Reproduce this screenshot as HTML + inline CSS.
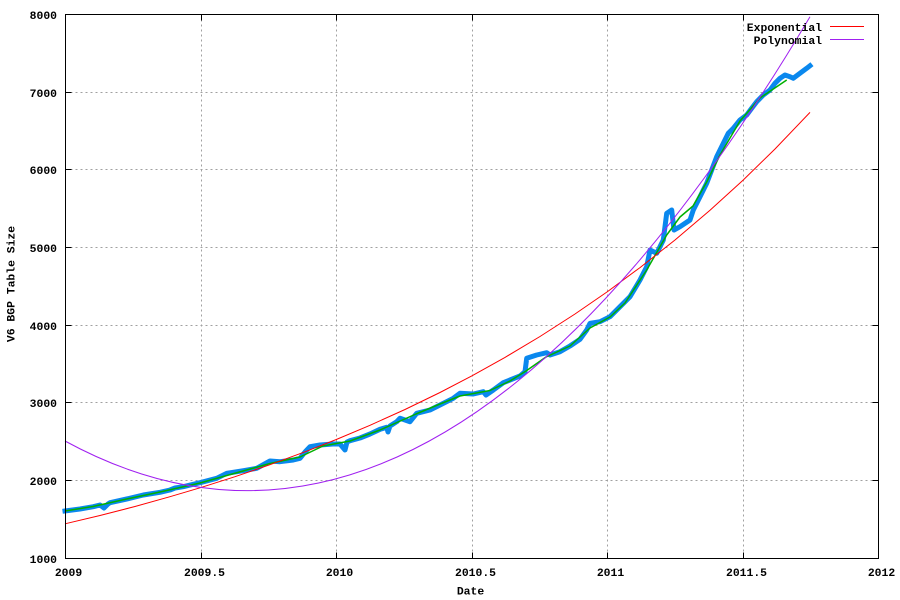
<!DOCTYPE html>
<html>
<head>
<meta charset="utf-8">
<style>
html,body{margin:0;padding:0;background:#fff;}
svg{display:block;}
text{font-family:"Liberation Mono","DejaVu Sans Mono",monospace;font-weight:bold;font-size:11.4px;fill:#000;}
</style>
</head>
<body>
<svg width="900" height="600" viewBox="0 0 900 600" xmlns="http://www.w3.org/2000/svg">
<rect x="0" y="0" width="900" height="600" fill="#fff"/>
<!-- grid -->
<g stroke="#a0a0a0" stroke-width="1" stroke-dasharray="2,3" fill="none">
<line x1="65.5" y1="480.5" x2="878.5" y2="480.5"/>
<line x1="65.5" y1="402.5" x2="878.5" y2="402.5"/>
<line x1="65.5" y1="325.5" x2="878.5" y2="325.5"/>
<line x1="65.5" y1="247.5" x2="878.5" y2="247.5"/>
<line x1="65.5" y1="169.5" x2="878.5" y2="169.5"/>
<line x1="65.5" y1="92.5" x2="878.5" y2="92.5"/>
<line x1="201.5" y1="14.5" x2="201.5" y2="558.5"/>
<line x1="336.5" y1="14.5" x2="336.5" y2="558.5"/>
<line x1="472.5" y1="14.5" x2="472.5" y2="558.5"/>
<line x1="607.5" y1="14.5" x2="607.5" y2="558.5"/>
<line x1="743.5" y1="14.5" x2="743.5" y2="558.5"/>
</g>
<!-- blue data -->
<polyline fill="none" stroke="#0a88ee" stroke-width="5" stroke-linejoin="round" stroke-linecap="square" points="
65,511 80,509 93.3,506.7 100,505 104,508 108,504 110,502.7 126.7,499 143.3,495 160,492.3 170,490 175,488 183.3,486.7 200,482.7 216.7,478.3 226.7,473.3 243.3,470.7 256.7,468.3 270,461 280,461.7 293.3,460 300,458.3 305,452 310,446.7 320,445 333,444 340,444 345,450 347,442 350,440.7 360,438 370,434 380,429.3 386.7,427.3 388,432 390,426 396.7,421.7 400,418.3 410,421.7 416.7,413.3 430,410 440,405 453.3,398.3 460,393.3 473.3,394 483.3,391.7 486,395 493.3,390 503.3,382.7 510,380 520,376 525,371.7 526.7,358.3 536.7,355 546.7,352.7 550,355 560,351.7 570,346 580,339.3 586.7,330 590,323.3 600,321.7 610,316.7 620,306.7 630,296.7 640,280 646.7,266.7 650,250 656.7,253.3 663.3,240 666.7,213.3 671.7,210 674,230 680,226.7 690,220 693.3,210 700,196.7 706.7,183.3 711.7,170 716.7,156.7 723.3,143.3 728.3,133.3 733.3,128.3 740,120 746.7,115 751.7,108.3 756.7,101.7 763.3,95 770,90 775,83.3 780,78.3 785,75 790,76.7 793.3,78.3 800,73.3 806.7,68.3 810,65.7"/>
<!-- green smoothed -->
<polyline fill="none" stroke="#00b000" stroke-width="1.5" stroke-linejoin="round" points="
65,511 93,506.5 126.7,499 160,492 200,483 243,471 270,463.5 300,457 323,446 350,441 380,430 416,414 440,404 460,396 490,390.5 510,381 526,371 546,357 570,346 590,328 610,317 625,303 646.7,270 666.7,235 680,217 693,206 706.7,182 720,155 740,121 760,98 776.7,86.7 786.7,80"/>
<!-- exponential red -->
<polyline fill="none" stroke="#ff0000" stroke-width="1" points="
65,523.8 100,515.5 135,506.5 170,496.7 200,487.8 235,476.7 270,464.7 305,451.8 336,439.6 370,425.3 405,409.5 440,392.5 472,375.8 505,357.4 540,336.5 575,314 607.5,291.6 640,267.6 675,240 710,210.3 743,180.2 775,149 810,112.4"/>
<!-- polynomial purple (quadratic) -->
<path fill="none" stroke="#a020f0" stroke-width="1" d="M65,441 Q437.5,644 810,16.7"/>
<!-- border -->
<rect x="65.5" y="14.5" width="813" height="544" fill="none" stroke="#000" stroke-width="1"/>
<!-- ticks -->
<g stroke="#000" stroke-width="1">
<line x1="65.5" y1="480.5" x2="71.5" y2="480.5"/><line x1="872.5" y1="480.5" x2="878.5" y2="480.5"/>
<line x1="65.5" y1="402.5" x2="71.5" y2="402.5"/><line x1="872.5" y1="402.5" x2="878.5" y2="402.5"/>
<line x1="65.5" y1="325.5" x2="71.5" y2="325.5"/><line x1="872.5" y1="325.5" x2="878.5" y2="325.5"/>
<line x1="65.5" y1="247.5" x2="71.5" y2="247.5"/><line x1="872.5" y1="247.5" x2="878.5" y2="247.5"/>
<line x1="65.5" y1="169.5" x2="71.5" y2="169.5"/><line x1="872.5" y1="169.5" x2="878.5" y2="169.5"/>
<line x1="65.5" y1="92.5" x2="71.5" y2="92.5"/><line x1="872.5" y1="92.5" x2="878.5" y2="92.5"/>
<line x1="201.5" y1="558.5" x2="201.5" y2="552.5"/><line x1="201.5" y1="14.5" x2="201.5" y2="20.5"/>
<line x1="336.5" y1="558.5" x2="336.5" y2="552.5"/><line x1="336.5" y1="14.5" x2="336.5" y2="20.5"/>
<line x1="472.5" y1="558.5" x2="472.5" y2="552.5"/><line x1="472.5" y1="14.5" x2="472.5" y2="20.5"/>
<line x1="607.5" y1="558.5" x2="607.5" y2="552.5"/><line x1="607.5" y1="14.5" x2="607.5" y2="20.5"/>
<line x1="743.5" y1="558.5" x2="743.5" y2="552.5"/><line x1="743.5" y1="14.5" x2="743.5" y2="20.5"/>
</g>
<!-- y tick labels -->
<g text-anchor="end">
<text x="57" y="563">1000</text>
<text x="57" y="485">2000</text>
<text x="57" y="407">3000</text>
<text x="57" y="330">4000</text>
<text x="57" y="252">5000</text>
<text x="57" y="174">6000</text>
<text x="57" y="97">7000</text>
<text x="57" y="19">8000</text>
</g>
<!-- x tick labels -->
<g text-anchor="middle">
<text x="68.5" y="576">2009</text>
<text x="204.5" y="576">2009.5</text>
<text x="339.5" y="576">2010</text>
<text x="475.5" y="576">2010.5</text>
<text x="610.5" y="576">2011</text>
<text x="746.5" y="576">2011.5</text>
<text x="881.5" y="576">2012</text>
</g>
<text x="470.5" y="594.5" text-anchor="middle">Date</text>
<text transform="translate(14.5,284) rotate(-90)" text-anchor="middle">V6 BGP Table Size</text>
<!-- legend -->
<text x="822" y="31" text-anchor="end">Exponential</text>
<text x="822" y="44" text-anchor="end">Polynomial</text>
<line x1="830" y1="26.5" x2="864" y2="26.5" stroke="#ff0000" stroke-width="1"/>
<line x1="830" y1="39.5" x2="864" y2="39.5" stroke="#a020f0" stroke-width="1"/>
</svg>
</body>
</html>
